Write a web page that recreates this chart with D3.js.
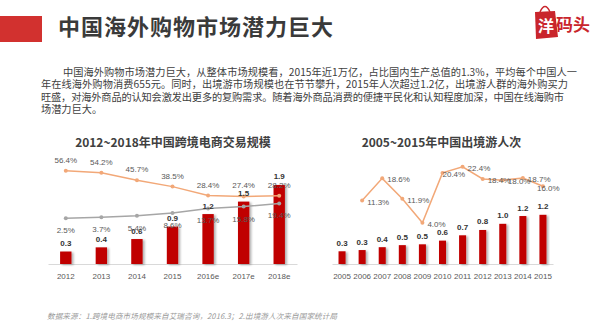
<!DOCTYPE html>
<meta charset="utf-8">
<title>中国海外购物市场潜力巨大</title>
<style>
    body {
        margin: 0;
        background: #fff;
        font-family: "Noto Sans CJK SC", "Noto Sans", sans-serif;
    }
</style>

<body>
    <div id="chart"></div>
    <script src="https://d3js.org/d3.v7.min.js"></script>

    <script>
        // left chart: 跨境电商交易规模 (万亿) + 增长率 + 渗透率
        var years1 = ["2012", "2013", "2014", "2015", "2016e", "2017e", "2018e"];
        var scale1 = [0.3, 0.4, 0.6, 0.9, 1.2, 1.5, 1.9];
        var growth1 = [56.4, 54.2, 45.7, 38.5, 28.4, 27.4, 28.2];
        var share1 = [2.5, 3.7, 5.4, 8.6, 13.7, 15.8, 19.4];

        // right chart: 出境游人次 (亿) + 增长率
        var years2 = ["2005", "2006", "2007", "2008", "2009", "2010", "2011", "2012", "2013", "2014", "2015"];
        var trips2 = [0.31, 0.34, 0.41, 0.46, 0.48, 0.57, 0.70, 0.83, 0.98, 1.17, 1.20];
        var growthYears2 = ["2006", "2007", "2008", "2009", "2010", "2011", "2012", "2013", "2014", "2015"];
        var growth2 = [11.3, 18.6, 11.9, 4.0, 20.4, 22.4, 18.4, 18.0, 18.7, 16.0];

        var paragraph = [
            "中国海外购物市场潜力巨大，从整体市场规模看，2015年近1万亿，占比国内生产总值的1.3%，平均每个中国人一",
            "年在线海外购物消费655元。同时，出境游市场规模也在节节攀升，2015年人次超过1.2亿，出境游人群的海外购买力",
            "旺盛，对海外商品的认知会激发出更多的复购需求。随着海外商品消费的便捷平民化和认知程度加深，中国在线海购市",
            "场潜力巨大。"
        ];

        var width = 605,
            height = 336;

        var barColor = "#C00000",
            orange = "#F2A878",
            grey = "#A6A6A6",
            textColor = "#595959",
            labelFont = "\"Liberation Sans\", Arial, sans-serif";

        var fmt1 = d3.format(".1f");

        var svg = d3.select("#chart")
            .append("svg")
            .attr("width", width)
            .attr("height", height);

        var defs = svg.append("defs");
        var shadow = defs.append("filter")
            .attr("id", "shadow")
            .attr("x", "-30%").attr("y", "-10%")
            .attr("width", "180%").attr("height", "130%");
        shadow.append("feDropShadow")
            .attr("dx", 2).attr("dy", 1)
            .attr("stdDeviation", 1)
            .attr("flood-color", "#000")
            .attr("flood-opacity", 0.3);

        // header
        svg.append("rect")
            .attr("x", 0).attr("y", 16)
            .attr("width", 42).attr("height", 26)
            .style("fill", "#D2312F");

        svg.append("text")
            .attr("x", 58).attr("y", 35)
            .attr("textLength", 275)
            .style("font-size", "22px")
            .style("font-weight", "bold")
            .style("fill", "#3A3A3A")
            .text("中国海外购物市场潜力巨大");

        // logo
        var logo = svg.append("g");
        logo.append("path")
            .attr("d", "M540,12 Q545,1 550,12")
            .style("fill", "none")
            .style("stroke", "#C9252C")
            .style("stroke-width", 1.5);
        logo.append("path")
            .attr("d", "M535,12 L555,11 L558,37 L536,39 Z")
            .style("fill", "#C9252C");
        logo.append("text")
            .attr("x", 538).attr("y", 32)
            .style("font-size", "16px")
            .style("font-weight", "bold")
            .style("fill", "#fff")
            .text("洋");
        logo.append("text")
            .attr("x", 556).attr("y", 31)
            .style("font-size", "17px")
            .style("font-weight", "bold")
            .style("fill", "#C9252C")
            .text("码头");

        // paragraph
        var paraX = [63, 41, 41, 41],
            paraLen = [514, 527, 523, null];
        svg.selectAll(".para")
            .data(paragraph)
            .enter().append("text")
            .attr("class", "para")
            .attr("x", (d, i) => paraX[i])
            .attr("y", (d, i) => 75.5 + i * 12.6)
            .attr("textLength", (d, i) => paraLen[i])
            .style("font-size", "10.2px")
            .style("fill", "#404040")
            .text(d => d);

        // footnote
        svg.append("text")
            .attr("x", 47).attr("y", 319)
            .attr("textLength", 290)
            .style("font-size", "7.6px")
            .style("font-style", "italic")
            .style("fill", "#9A9A9A")
            .text("数据来源：1.跨境电商市场规模来自艾瑞咨询，2016.3；2.出境游人次来自国家统计局");

        var baseY = 264;

        function barChart(cfg) {
            var g = svg.append("g");

            var x = d3.scaleBand()
                .domain(cfg.years)
                .range(cfg.xRange)
                .paddingInner(cfg.padIn)
                .paddingOuter(cfg.padIn / 2);

            var y = d3.scaleLinear()
                .domain(cfg.yDomain)
                .range([baseY, baseY - cfg.yPx]);

            var y2 = d3.scaleLinear()
                .domain(cfg.y2Domain)
                .range(cfg.y2Range);

            // title
            g.append("text")
                .attr("x", cfg.titleX).attr("y", 146.5)
                .style("text-anchor", "middle")
                .style("font-size", "12px")
                .style("font-weight", "bold")
                .style("fill", "#404040")
                .text(cfg.title);

            // x axis
            var xAxis = d3.axisBottom(x).tickSize(0).tickPadding(9);
            var ax = g.append("g")
                .attr("transform", `translate(0,${baseY})`)
                .call(xAxis);
            ax.select(".domain").style("stroke", "#D9D9D9");
            ax.selectAll("text")
                .style("font-size", "8px")
                .style("font-family", labelFont)
                .style("fill", textColor);

            // bars
            g.selectAll(".bar")
                .data(cfg.values)
                .enter().append("rect")
                .attr("class", "bar")
                .attr("x", (d, i) => x(cfg.years[i]))
                .attr("y", d => y(d))
                .attr("width", x.bandwidth())
                .attr("height", d => baseY - y(d))
                .attr("filter", "url(#shadow)")
                .style("fill", barColor);

            // lines
            cfg.lines.forEach(function(ln) {
                var line = d3.line()
                    .x((d, i) => x(ln.years[i]) + x.bandwidth() / 2)
                    .y(d => y2(d));
                g.append("path")
                    .datum(ln.values)
                    .attr("d", line)
                    .style("fill", "none")
                    .style("stroke", ln.color)
                    .style("stroke-width", 1.5);
                g.selectAll(null)
                    .data(ln.values)
                    .enter().append("circle")
                    .attr("cx", (d, i) => x(ln.years[i]) + x.bandwidth() / 2)
                    .attr("cy", d => y2(d))
                    .attr("r", 2)
                    .style("fill", ln.color);
            });

            // bar labels
            g.selectAll(".barlabel")
                .data(cfg.values)
                .enter().append("text")
                .attr("class", "barlabel")
                .attr("x", (d, i) => x(cfg.years[i]) + x.bandwidth() / 2)
                .attr("y", d => y(d) - 5.5)
                .style("text-anchor", "middle")
                .style("font-size", "8px")
                .style("font-weight", "bold")
                .style("font-family", labelFont)
                .style("fill", "#333")
                .text(d => fmt1(d));

            // line labels
            cfg.lines.forEach(function(ln) {
                g.selectAll(null)
                    .data(ln.values)
                    .enter().append("text")
                    .attr("x", (d, i) => x(ln.years[i]) + x.bandwidth() / 2 + ln.dx(i))
                    .attr("y", (d, i) => y2(d) + ln.dy(i))
                    .style("text-anchor", ln.anchor)
                    .style("font-size", "8px")
                    .style("font-family", labelFont)
                    .style("fill", textColor)
                    .text(d => fmt1(d) + "%");
            });
        }

        barChart({
            title: "2012~2018年中国跨境电商交易规模",
            titleX: 173,
            years: years1,
            values: scale1,
            xRange: [48, 297],
            padIn: 0.68,
            yDomain: [0, 2],
            yPx: 83.2,
            y2Domain: [0, 60],
            y2Range: [220.5, 167.7],
            lines: [
                { years: years1, values: growth1, color: orange, anchor: "middle", dx: i => 0, dy: i => -8 },
                { years: years1, values: share1, color: grey, anchor: "middle", dx: i => 0, dy: i => 15 }
            ]
        });

        barChart({
            title: "2005~2015年中国出境游人次",
            titleX: 441.5,
            years: years2,
            values: trips2,
            xRange: [332, 553],
            padIn: 0.65,
            yDomain: [0, 1.4],
            yPx: 57.4,
            y2Domain: [0, 25],
            y2Range: [234.9, 158.9],
            lines: [
                {
                    years: growthYears2, values: growth2, color: orange, anchor: "start",
                    dx: i => (i === 4 ? 0 : i === 9 ? -6 : 5),
                    dy: i => (i === 9 ? 5 : 4)
                }
            ]
        });
    </script>
</body>
